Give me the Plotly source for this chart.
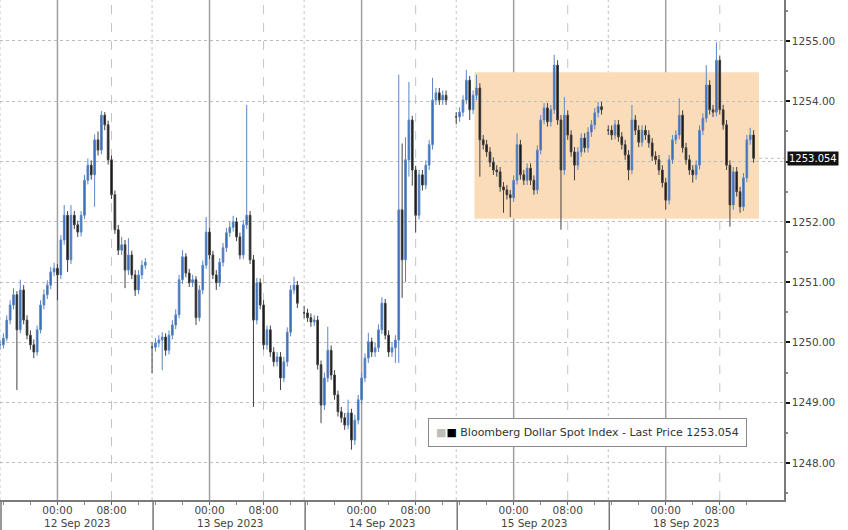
import plotly.graph_objects as go

# ---------------- data (30-minute bars) ----------------
SESSIONS = ["12 Sep 2023", "13 Sep 2023", "14 Sep 2023", "15 Sep 2023", "18 Sep 2023"]
TIME_LABELS = ["00:00", "08:00"]
SERIES_NAME = "Bloomberg Dollar Spot Index - Last Price"
LAST_PRICE = 1253.054
BOX_LOW, BOX_HIGH = 1252.05, 1254.48
Y_TICKS = [1248, 1249, 1250, 1251, 1252, 1253, 1254, 1255]

CLOSE_12 = [1249.96, 1250.07, 1250.37, 1250.62, 1250.79, 1250.21, 1250.87, 1250.37, 1250.12, 1249.96,
            1249.84, 1250.21, 1250.62, 1250.79, 1250.95, 1251.17, 1251.23, 1251.12, 1251.70, 1252.11,
            1251.37, 1252.11, 1251.95, 1251.83, 1252.11, 1252.69, 1252.94, 1252.78, 1253.36, 1253.19,
            1253.77, 1253.61, 1253.03, 1252.45, 1251.87, 1251.53, 1251.62, 1251.20, 1251.45, 1251.12,
            1250.87, 1251.12, 1251.28, 1251.33]
HIGH_12 = [1250.05, 1250.15, 1250.45, 1250.70, 1250.90, 1250.85, 1251.04, 1250.95, 1250.45, 1250.20,
           1250.05, 1250.28, 1250.70, 1250.88, 1251.03, 1251.25, 1251.32, 1251.30, 1251.78, 1252.28,
           1252.18, 1252.28, 1252.18, 1252.02, 1252.18, 1252.78, 1253.05, 1253.02, 1253.45, 1253.50,
           1253.84, 1253.82, 1253.68, 1253.10, 1252.52, 1251.95, 1251.75, 1251.70, 1251.73, 1251.52,
           1251.20, 1251.20, 1251.36, 1251.40]
LOW_12 = [1249.88, 1249.90, 1250.02, 1250.30, 1250.55, 1249.21, 1250.15, 1250.30, 1250.05, 1249.88,
          1249.74, 1249.78, 1250.15, 1250.55, 1250.72, 1250.88, 1251.10, 1250.70, 1251.05, 1251.62,
          1251.17, 1251.30, 1251.88, 1251.75, 1251.76, 1252.05, 1252.62, 1252.70, 1252.25, 1253.10,
          1253.12, 1253.52, 1252.95, 1252.38, 1251.80, 1251.45, 1251.45, 1250.90, 1251.12, 1251.05,
          1250.77, 1250.80, 1251.05, 1251.22]

CLOSE_13 = [1249.92, 1249.99, 1250.04, 1250.09, 1249.87, 1250.12, 1250.29, 1250.46, 1251.04, 1251.42,
            1251.15, 1250.99, 1251.04, 1250.41, 1250.87, 1251.28, 1251.83, 1251.45, 1251.12, 1250.99,
            1251.33, 1251.57, 1251.82, 1251.91, 1252.00, 1251.75, 1251.45, 1251.95, 1252.11, 1251.37,
            1250.37, 1250.99, 1250.62, 1249.96, 1250.21, 1249.84, 1249.68, 1249.76, 1249.41, 1249.68,
            1250.17, 1250.87, 1250.95, 1250.65]
HIGH_13 = [1250.00, 1250.07, 1250.12, 1250.17, 1250.15, 1250.20, 1250.37, 1250.55, 1251.12, 1251.53,
           1251.48, 1251.22, 1251.12, 1251.10, 1250.95, 1251.36, 1252.08, 1251.90, 1251.52, 1251.20,
           1251.40, 1251.65, 1251.90, 1252.00, 1252.10, 1252.07, 1251.82, 1252.03, 1253.94, 1252.18,
           1251.45, 1251.07, 1251.06, 1250.70, 1250.28, 1250.28, 1249.92, 1249.84, 1249.84, 1249.76,
           1250.25, 1250.95, 1251.09, 1251.02]
LOW_13 = [1249.49, 1249.85, 1249.92, 1249.54, 1249.78, 1249.80, 1250.05, 1250.22, 1250.40, 1250.97,
          1251.08, 1250.92, 1250.92, 1250.29, 1250.35, 1250.80, 1251.22, 1251.38, 1251.05, 1250.87,
          1250.92, 1251.26, 1251.50, 1251.75, 1251.84, 1251.68, 1251.38, 1251.38, 1251.88, 1251.30,
          1248.93, 1250.30, 1250.55, 1249.88, 1249.88, 1249.76, 1249.60, 1249.60, 1249.21, 1249.34,
          1249.60, 1250.10, 1250.80, 1250.57]

CLOSE_14 = [1250.49, 1250.41, 1250.34, 1250.37, 1249.63, 1248.96, 1249.41, 1249.87, 1249.46, 1249.13,
            1248.85, 1248.75, 1248.63, 1248.83, 1248.38, 1248.71, 1249.05, 1249.41, 1249.74, 1250.01,
            1249.84, 1249.91, 1250.21, 1250.65, 1250.12, 1249.84, 1249.91, 1250.04, 1252.20, 1251.37,
            1253.03, 1253.69, 1252.86, 1252.11, 1252.78, 1252.61, 1252.94, 1253.28, 1254.02, 1254.14,
            1254.02, 1254.10, 1254.02]
HIGH_14 = [1250.60, 1250.56, 1250.48, 1250.45, 1250.44, 1249.70, 1249.50, 1250.26, 1249.95, 1249.54,
           1249.20, 1248.93, 1248.83, 1249.05, 1248.90, 1248.80, 1249.13, 1249.50, 1249.82, 1250.16,
           1250.08, 1250.00, 1250.30, 1250.75, 1250.72, 1250.20, 1250.00, 1250.12, 1254.44, 1253.30,
           1253.40, 1254.32, 1253.76, 1252.93, 1252.86, 1252.86, 1253.02, 1253.36, 1254.39, 1254.22,
           1254.22, 1254.18, 1254.18]
LOW_14 = [1250.40, 1250.34, 1250.26, 1250.27, 1249.55, 1248.66, 1248.88, 1249.34, 1249.38, 1249.05,
          1248.77, 1248.67, 1248.55, 1248.56, 1248.22, 1248.30, 1248.64, 1248.98, 1249.34, 1249.66,
          1249.76, 1249.76, 1249.84, 1250.14, 1250.05, 1249.76, 1249.76, 1249.66, 1249.66, 1250.74,
          1251.00, 1252.75, 1252.60, 1251.82, 1252.04, 1252.52, 1252.54, 1252.86, 1253.20, 1253.94,
          1253.94, 1253.94, 1253.94]

CLOSE_15 = [1253.74, 1253.82, 1254.02, 1254.35, 1253.86, 1254.10, 1254.22, 1253.36, 1253.28, 1253.16,
            1252.99, 1252.86, 1252.83, 1252.58, 1252.53, 1252.45, 1252.40, 1252.69, 1253.28, 1252.78,
            1252.69, 1252.89, 1252.69, 1252.53, 1253.19, 1253.69, 1253.89, 1253.66, 1253.86, 1254.60,
            1253.69, 1252.86, 1253.77, 1253.44, 1253.16, 1252.94, 1253.16, 1253.39, 1253.23, 1253.49,
            1253.61, 1253.81, 1253.91, 1253.86]
HIGH_15 = [1253.82, 1253.90, 1254.10, 1254.52, 1254.42, 1254.18, 1254.44, 1254.30, 1253.44, 1253.36,
           1253.24, 1253.07, 1252.94, 1252.91, 1252.66, 1252.61, 1252.53, 1252.77, 1253.47, 1253.36,
           1252.86, 1252.97, 1252.97, 1252.77, 1253.27, 1253.77, 1253.97, 1253.97, 1253.94, 1254.77,
           1254.68, 1253.77, 1254.07, 1253.85, 1253.52, 1253.24, 1253.24, 1253.47, 1253.47, 1253.57,
           1253.69, 1253.89, 1253.99, 1253.99]
LOW_15 = [1253.62, 1253.66, 1253.75, 1253.95, 1253.69, 1253.79, 1254.02, 1252.75, 1253.20, 1253.08,
          1252.91, 1252.78, 1252.75, 1252.50, 1252.15, 1252.37, 1252.08, 1252.33, 1252.62, 1252.70,
          1252.61, 1252.61, 1252.61, 1252.45, 1252.46, 1253.12, 1253.62, 1253.58, 1253.58, 1253.79,
          1253.61, 1251.87, 1252.78, 1253.36, 1253.08, 1252.69, 1252.86, 1253.08, 1253.15, 1253.15,
          1253.41, 1253.53, 1253.73, 1253.78]

CLOSE_18 = [1253.52, 1253.44, 1253.61, 1253.41, 1253.28, 1253.11, 1252.86, 1253.69, 1253.52, 1253.32,
            1253.52, 1253.44, 1253.31, 1253.09, 1253.03, 1252.86, 1252.65, 1252.36, 1253.03, 1253.36,
            1253.44, 1253.77, 1253.23, 1253.03, 1252.86, 1252.78, 1252.94, 1253.52, 1253.72, 1254.27,
            1253.86, 1253.82, 1254.68, 1253.86, 1253.61, 1252.94, 1252.28, 1252.83, 1252.50, 1252.25,
            1252.73, 1253.36, 1253.44, 1253.054]
HIGH_18 = [1253.60, 1253.60, 1253.69, 1253.69, 1253.49, 1253.36, 1253.19, 1253.94, 1253.77, 1253.60,
           1253.60, 1253.60, 1253.52, 1253.39, 1253.17, 1253.11, 1252.94, 1252.73, 1253.11, 1253.44,
           1253.52, 1254.05, 1253.85, 1253.31, 1253.11, 1252.94, 1253.02, 1253.60, 1253.80, 1254.60,
           1254.35, 1253.94, 1254.98, 1254.76, 1253.94, 1253.69, 1253.02, 1252.91, 1252.91, 1252.58,
           1252.81, 1253.44, 1253.56, 1253.52]
LOW_18 = [1253.44, 1253.36, 1253.37, 1253.33, 1253.20, 1253.03, 1252.69, 1252.79, 1253.44, 1253.24,
          1253.25, 1253.36, 1253.23, 1253.01, 1252.95, 1252.78, 1252.57, 1252.20, 1252.29, 1252.96,
          1253.29, 1253.37, 1253.15, 1252.95, 1252.78, 1252.65, 1252.70, 1252.87, 1253.44, 1253.65,
          1253.78, 1253.74, 1253.75, 1253.78, 1253.53, 1252.86, 1251.92, 1252.20, 1252.42, 1252.15,
          1252.18, 1252.66, 1253.28, 1252.98]

CLOSES = [CLOSE_12, CLOSE_13, CLOSE_14, CLOSE_15, CLOSE_18]
HIGHS = [HIGH_12, HIGH_13, HIGH_14, HIGH_15, HIGH_18]
LOWS = [LOW_12, LOW_13, LOW_14, LOW_15, LOW_18]

# ---------------- session geometry (hours) ----------------
SESSION_LEN = 22.5      # hours shown per trading block
MIDNIGHT_AT = 8.5       # 00:00 position inside a block
BAR_STEP = 0.5          # 30-minute bars
X_END = 116.0

xs, o, h, l, c = [], [], [], [], []
for b, (cl, hi, lo) in enumerate(zip(CLOSES, HIGHS, LOWS)):
    for k in range(len(cl)):
        op = cl[k - 1] if k > 0 else cl[k]
        xs.append(b * SESSION_LEN + k * BAR_STEP)
        o.append(op)
        c.append(cl[k])
        h.append(max(hi[k], op, cl[k]))
        l.append(min(lo[k], op, cl[k]))

FONT = "DejaVu Sans"

fig = go.Figure()
fig.add_trace(go.Candlestick(
    x=xs, open=o, high=h, low=l, close=c, name=SERIES_NAME,
    increasing=dict(line=dict(color="#5a86c4", width=1), fillcolor="#2f66b3"),
    decreasing=dict(line=dict(color="#404040", width=1), fillcolor="#0b0b0b"),
    whiskerwidth=0, hoverinfo="skip",
))

shapes = []
shapes.append(dict(type="rect", xref="x", yref="y", x0=70.2, x1=112.3, y0=BOX_LOW, y1=BOX_HIGH,
                   fillcolor="#fbdcb9", line=dict(width=0), layer="below"))
tickvals, ticktext, minor_vals = [], [], []
for b in range(len(SESSIONS)):
    start = b * SESSION_LEN
    mid = start + MIDNIGHT_AT
    tickvals += [mid, mid + 8]
    ticktext += TIME_LABELS
    minor_vals += [mid - 8, mid - 4, mid + 4, mid + 12]
    shapes.append(dict(type="line", xref="x", yref="paper", x0=mid, x1=mid, y0=0, y1=1,
                       line=dict(color="#a0a0a0", width=1.5), layer="below"))
    shapes.append(dict(type="line", xref="x", yref="paper", x0=mid + 8, x1=mid + 8, y0=0, y1=1,
                       line=dict(color="#c4c4c4", width=1, dash="dash"), layer="below"))
    shapes.append(dict(type="line", xref="x", yref="paper", x0=start, x1=start, y0=0, y1=1,
                       line=dict(color="#c4c4c4", width=1, dash="dot"), layer="below"))
    shapes.append(dict(type="line", xref="x", yref="paper", x0=start + 0.15, x1=start + 0.15,
                       y0=-0.06, y1=0, line=dict(color="#777777", width=1.5)))
shapes.append(dict(type="line", xref="x", yref="y", x0=112.3, x1=X_END, y0=LAST_PRICE, y1=LAST_PRICE,
                   line=dict(color="#bbbbbb", width=1, dash="dot"), layer="below"))

annotations = []
for b, name in enumerate(SESSIONS):
    annotations.append(dict(x=b * SESSION_LEN + MIDNIGHT_AT, y=0, xref="x", yref="paper",
                            text=name, showarrow=False, xanchor="left", yanchor="top",
                            xshift=-15, yshift=-15,
                            font=dict(family=FONT, size=10.5, color="#444")))
annotations.append(dict(x=1, y=LAST_PRICE, xref="paper", yref="y", text=f"{LAST_PRICE:.3f}",
                        showarrow=False, xanchor="left", yanchor="middle", xshift=3,
                        bgcolor="#111111", borderpad=1,
                        font=dict(family=FONT, size=10, color="#ffffff")))
annotations.append(dict(x=0.5455, y=0.136, xref="paper", yref="paper",
                        text=('<span style="color:#bdbdbd">■</span><span style="color:#000">■</span> '
                              f'{SERIES_NAME} {LAST_PRICE:.3f}'),
                        showarrow=False, xanchor="left", yanchor="middle",
                        bgcolor="#ffffff", bordercolor="#8a8a8a", borderwidth=1, borderpad=7,
                        font=dict(family=FONT, size=11, color="#333")))

# the last-price tag covers the nearby level label
y_ticktext = ["" if abs(v - LAST_PRICE) < 0.3 else f"{v:.2f}" for v in Y_TICKS]

fig.update_layout(
    width=848, height=530,
    margin=dict(l=0, r=64, t=0, b=30),
    paper_bgcolor="#ffffff", plot_bgcolor="#ffffff",
    showlegend=False,
    shapes=shapes, annotations=annotations,
    font=dict(family=FONT, size=10.5, color="#444"),
    xaxis=dict(range=[0, X_END], tickmode="array", tickvals=tickvals, ticktext=ticktext,
               ticks="outside", ticklen=3, tickcolor="#666", showgrid=False, zeroline=False,
               showline=True, linecolor="#7a7a7a", linewidth=1.5, ticklabelstandoff=-3,
               tickfont=dict(family=FONT, size=10.5, color="#444"),
               minor=dict(tickmode="array", tickvals=minor_vals, ticks="outside", ticklen=3,
                          tickcolor="#888", showgrid=False),
               rangeslider=dict(visible=False), fixedrange=True),
    yaxis=dict(side="right", range=[1247.386, 1255.68], tickmode="array", tickvals=Y_TICKS,
               ticktext=y_ticktext, ticks="outside", ticklen=4, tickwidth=2,
               tickcolor="#111", showgrid=True, gridcolor="#bdbdbd", griddash="dot", gridwidth=1,
               zeroline=False, showline=True, linecolor="#7a7a7a", linewidth=1.5,
               tickfont=dict(family=FONT, size=10.5, color="#444"),
               minor=dict(dtick=0.5, tick0=1247.5, ticks="outside", ticklen=2, tickcolor="#888",
                          showgrid=False),
               fixedrange=True),
)

fig.write_html("out.html", config={"displayModeBar": False},
               post_script="document.body.style.margin='0px';")
